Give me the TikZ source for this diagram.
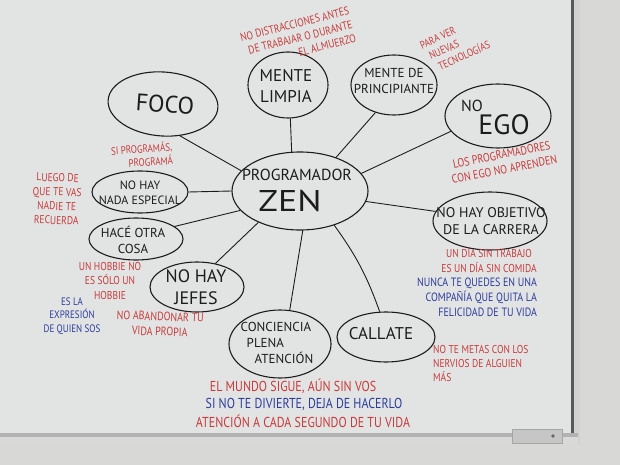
\documentclass[tikz,border=0pt]{standalone}
\usepackage{fontspec}
\setmainfont{PT Sans}
\usetikzlibrary{shapes.geometric}
\definecolor{board}{HTML}{E2E4E3}
\definecolor{wall}{HTML}{D8D8D6}
\definecolor{mred}{HTML}{C83A3C}
\definecolor{mblue}{HTML}{2C3C9C}
\definecolor{ink}{HTML}{1C1C1C}
\tikzset{
  bub/.style={ellipse, draw=ink, line width=1.1pt, inner sep=0pt},
  spoke/.style={draw=ink, line width=0.9pt},
  inktxt/.style={text=ink, align=center, inner sep=0pt},
  rednote/.style={text=mred, inner sep=0pt, yscale=1.2},
  bluenote/.style={text=mblue, inner sep=0pt, yscale=1.2},
}
\newcommand{\fs}[1]{\fontsize{#1}{1.25\dimexpr #1pt\relax}\selectfont}
\begin{document}
\begin{tikzpicture}[x=1pt,y=-1pt]
\useasboundingbox (0,0) rectangle (620,465);
% background: wall, board, frame, tray
\fill[wall] (0,0) rectangle (620,465);
\fill[board] (0,0) rectangle (571,433);
\fill[gray!70!black] (571,0) rectangle (574,440);
\fill[gray!35] (574,0) rectangle (580,445);
\fill[gray!60] (0,433) rectangle (578,437);
\fill[gray!30] (0,437) rectangle (578,445);
\fill[gray!45, draw=gray!70] (512,429) rectangle (562,443);
\fill[gray!80!black] (553,436) circle (1.8);

% bubbles
\node[bub, minimum width=110, minimum height=64, rotate=-4] (foco) at (163,104) {};
\node[bub, minimum width=80, minimum height=66] (limpia) at (288,85) {};
\node[bub, minimum width=86, minimum height=60] (princ) at (394,85) {};
\node[bub, minimum width=106, minimum height=64] (ego) at (498,116) {};
\node[bub, minimum width=136, minimum height=78] (zen) at (300,191) {};
\node[bub, minimum width=96, minimum height=42] (nada) at (140,192) {};
\node[bub, minimum width=94, minimum height=42] (hace) at (136,239) {};
\node[bub, minimum width=94, minimum height=50] (jefes) at (197,287) {};
\node[bub, minimum width=102, minimum height=68] (conc) at (280,344) {};
\node[bub, minimum width=98, minimum height=50] (callate) at (386,337) {};
\node[bub, minimum width=114, minimum height=58] (objetivo) at (490,221) {};

% spokes
\draw[spoke] (zen.161) -- (foco.-58);
\draw[spoke] (zen.102) -- (limpia.-86);
\draw[spoke] (zen.43) -- (princ.-124);
\draw[spoke] (zen.16) -- (ego.-162);
\draw[spoke] (zen.-9) -- (objetivo.170);
\draw[spoke] (zen.-45) to[bend left=8] (callate.104);
\draw[spoke] (zen.-86) -- (conc.74);
\draw[spoke] (zen.-143) -- (jefes.52);
\draw[spoke] (zen.198) -- (hace.18);
\draw[spoke] (zen.180) -- (nada.0);

% bubble texts
\node[inktxt, font=\fs{24}, rotate=-4] (tfoco) at (165,104) {FOCO};
\node[inktxt, font=\fs{17}] (tlimpia) at (286,86) {MENTE\\LIMPIA};
\node[inktxt, font=\fs{13}] (tprinc) at (394,81) {MENTE DE\\PRINCIPIANTE};
\node[inktxt, font=\fs{16}] (tno1) at (472,106) {NO};
\node[inktxt, font=\fs{28}] (tego) at (504,125) {EGO};
\node[inktxt, font=\fs{16}] (tprog) at (297,175) {PROGRAMADOR};
\node[inktxt, font=\fs{30}, xscale=1.2] (tzen) at (290,201) {ZEN};
\node[inktxt, font=\fs{12}] (tnada) at (140,193) {NO HAY\\NADA ESPECIAL};
\node[inktxt, font=\fs{13}] (thace) at (133,240) {HACÉ OTRA\\COSA};
\node[inktxt, font=\fs{18}] (tjefes) at (196,287) {NO HAY\\JEFES};
\node[inktxt, font=\fs{13}, align=left] (tconc) at (277,343) {CONCIENCIA\\\hspace{6pt}PLENA\\\hspace{14pt}ATENCIÓN};
\node[inktxt, font=\fs{17}] (tcallate) at (381,334) {CALLATE};
\node[inktxt, font=\fs{14}] (tobj) at (491,221) {NO HAY OBJETIVO\\DE LA CARRERA};

% red / blue notes
\node[rotate=14, rednote, font=\fs{9.5}, align=right] (n1) at (298,38) {NO DISTRACCIONES ANTES\\DE TRABAJAR O DURANTE\\EL ALMUERZO};
\node[rotate=24, rednote, font=\fs{9}, align=left] (n2) at (455,45) {PARA VER\\\hspace{4pt}NUEVAS\\\hspace{8pt}TECNOLOGÍAS};
\node[rotate=4, rednote, font=\fs{9}, align=right] (n3) at (142,155) {SI PROGRAMÁS,\\PROGRAMÁ};
\node[rotate=11, rednote, font=\fs{10}, align=center] (n4) at (503,162) {LOS PROGRAMADORES\\CON EGO NO APRENDEN};
\node[rotate=-2, rednote, font=\fs{9.5}, align=center] (n5) at (57,199) {LUEGO DE\\QUE TE VAS\\NADIE TE\\RECUERDA};
\node[rednote, font=\fs{9.5}, align=center] (n6) at (110,281) {UN HOBBIE NO\\ES SÓLO UN\\HOBBIE};
\node[bluenote, font=\fs{9}, align=center] (n7) at (72,316) {ES LA\\EXPRESIÓN\\DE QUIEN SOS};
\node[rotate=-2, rednote, font=\fs{10}, align=center] (n8) at (160,324) {NO ABANDONAR TU\\VIDA PROPIA};
\node[rednote, font=\fs{9.5}, align=center] (n9) at (489,260) {UN DÍA SIN TRABAJO\\ES UN DÍA SIN COMIDA};
\node[bluenote, font=\fs{10}, align=right] (n10) at (477,297) {NUNCA TE QUEDES EN UNA\\COMPAÑÍA QUE QUITA LA\\FELICIDAD DE TU VIDA};
\node[rednote, font=\fs{9.5}, align=left, anchor=north west] (n11) at (433,345) {NO TE METAS CON LOS\\NERVIOS DE ALGUIEN\\MÁS};
\node[rednote, font=\fs{12}] (n12) at (293,386) {EL MUNDO SIGUE, AÚN SIN VOS};
\node[bluenote, font=\fs{12}] (n13) at (304,404) {SI NO TE DIVIERTE, DEJA DE HACERLO};
\node[rednote, font=\fs{12}] (n14) at (303,421) {ATENCIÓN A CADA SEGUNDO DE TU VIDA};
\end{tikzpicture}
\end{document}
